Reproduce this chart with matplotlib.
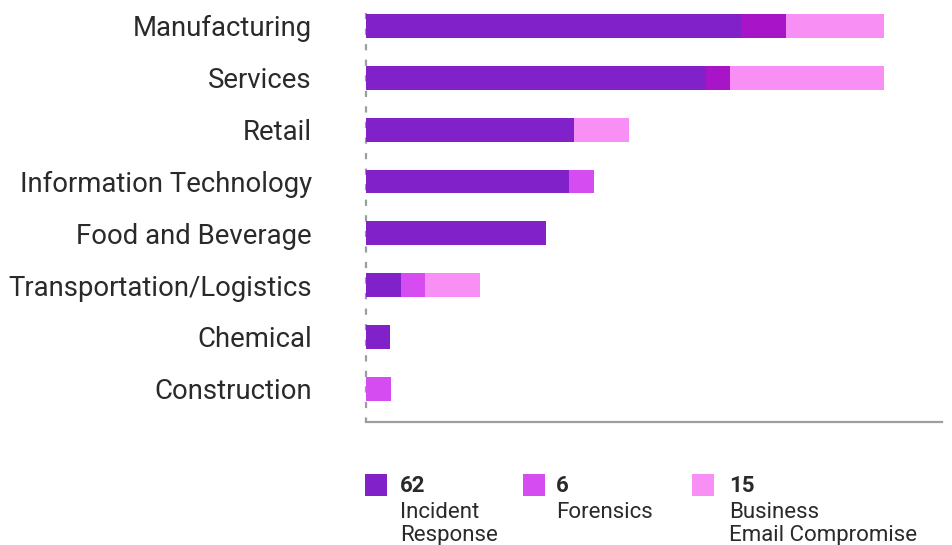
import matplotlib
matplotlib.use("Agg")
import matplotlib.pyplot as plt
from matplotlib.patches import Rectangle

# Industry breakdown of engagements by service line
industries = [
    "Manufacturing",
    "Services",
    "Retail",
    "Information Technology",
    "Food and Beverage",
    "Transportation/Logistics",
    "Chemical",
    "Construction",
]
incident_response = [15.62, 14.17, 8.67, 8.46, 7.50, 1.46, 1.00, 0.00]
forensics = [1.88, 1.00, 0.00, 1.04, 0.00, 1.00, 0.00, 1.04]
business_email = [4.08, 6.42, 2.29, 0.00, 0.00, 2.29, 0.00, 0.00]

series_names = ["Incident\nResponse", "Forensics", "Business\nEmail Compromise"]
series_totals = [62, 6, 15]

# Styling
IR_COLOR = "#8121CA"
FOR_COLOR = "#D54CF0"
FOR_DARK = "#A814C8"
BEC_COLOR = "#F78FF5"
AXIS_GRAY = "#9A9EA2"
TEXT_COLOR = "#2A2A2A"
FONT = ["Roboto", "DejaVu Sans"]

forensics_colors = [FOR_DARK, FOR_DARK] + [FOR_COLOR] * (len(industries) - 2)

W, H = 952, 545
fig = plt.figure(figsize=(W / 100, H / 100), dpi=100)
plt.rcParams["font.family"] = FONT


def fx(px):
    return px / W


def fy(py):
    return 1 - py / H


ax = fig.add_axes([fx(366), fy(422), fx(942) - fx(366), 422 / H])

y = list(range(len(industries)))
bar_h = 0.46
left2 = [a + b for a, b in zip(incident_response, forensics)]
ax.barh(y, incident_response, height=bar_h, color=IR_COLOR, linewidth=0)
ax.barh(y, forensics, left=incident_response, height=bar_h,
        color=forensics_colors, linewidth=0)
ax.barh(y, business_email, left=left2, height=bar_h, color=BEC_COLOR, linewidth=0)

ax.set_xlim(0, 24)
ax.set_ylim(len(industries) - 1 + 0.64, -0.5)

for side in ["top", "right", "left"]:
    ax.spines[side].set_visible(False)
ax.spines["bottom"].set_color(AXIS_GRAY)
ax.spines["bottom"].set_linewidth(1.6)

# dashed baseline at zero
ax.plot([0, 0], [-0.24, len(industries) - 1 + 0.64], color=AXIS_GRAY,
        lw=1.6, linestyle=(0, (2.8, 4.2)), clip_on=False, zorder=0.5)

ax.set_xticks([])
ax.set_yticks(y)
ax.set_yticklabels(industries, fontsize=19.8, color=TEXT_COLOR)
ax.tick_params(axis="y", length=0, pad=39)

# Legend with totals
legend_x = [365, 523, 692]
text_x = [400, 556, 729]
colors = [IR_COLOR, FOR_COLOR, BEC_COLOR]
for sx, tx, c, total, name in zip(legend_x, text_x, colors, series_totals, series_names):
    fig.patches.append(Rectangle((fx(sx), fy(496)), 22 / W, 22 / H,
                                 transform=fig.transFigure, color=c, lw=0))
    fig.text(fx(tx), fy(492), str(total), fontsize=16, fontweight="bold",
             color=TEXT_COLOR, va="baseline", ha="left")
    for i, line in enumerate(name.split("\n")):
        fig.text(fx(tx), fy(518 + 23 * i), line, fontsize=16,
                 color=TEXT_COLOR, va="baseline", ha="left")

fig.savefig("out.png", dpi=100)
